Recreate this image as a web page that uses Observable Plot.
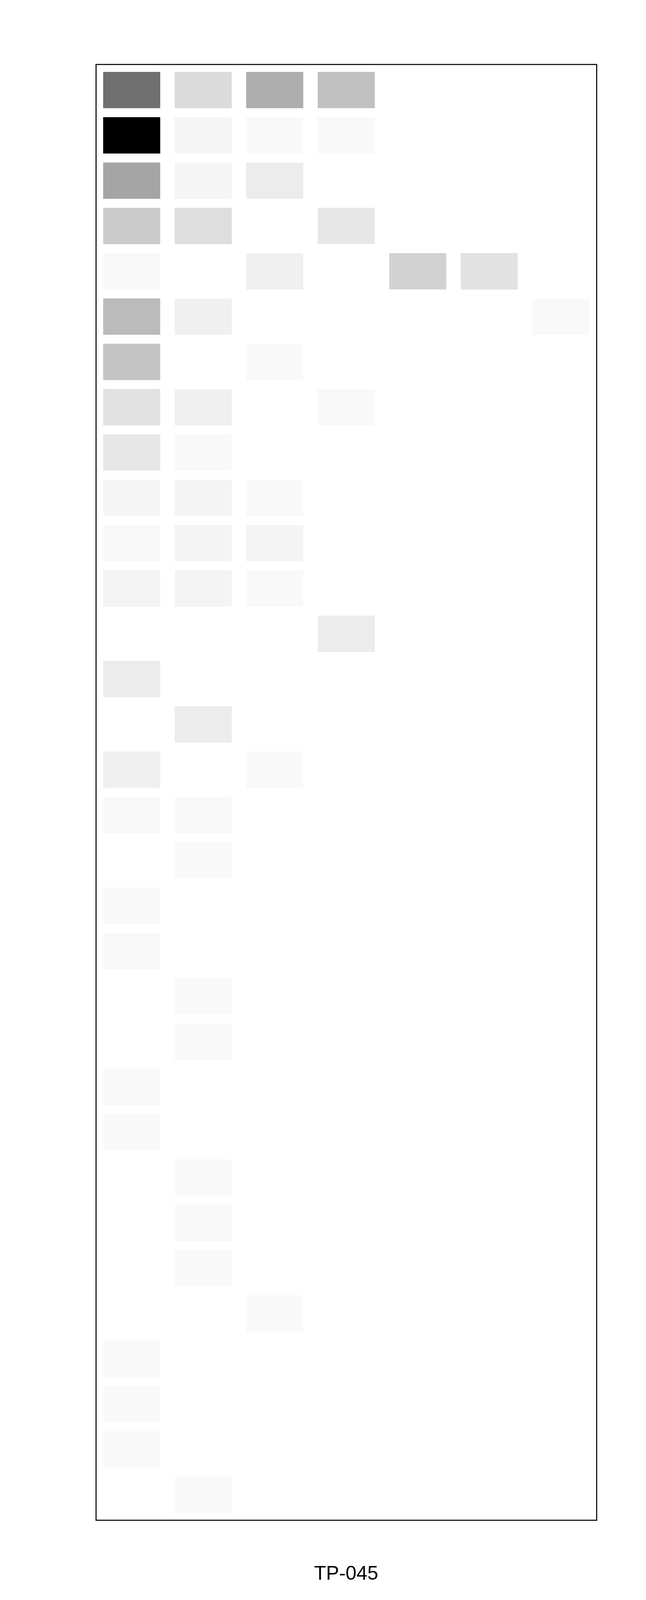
<!DOCTYPE html>
<html>
<head>
<meta charset="utf-8">
<script src="https://cdn.jsdelivr.net/npm/d3@7"></script>
<script src="https://cdn.jsdelivr.net/npm/@observablehq/plot@0.6"></script>
<style>
  body { margin: 0; background: #fff; overflow: hidden; }
  #wrap { position: relative; width: 1653px; }
  #caption {
    position: absolute; left: 245.3px; width: 1281px;
    text-align: center; font-family: "Liberation Sans", Arial, sans-serif;
    font-size: 50px; line-height: 50px; color: #000;
  }
</style>
</head>
<body>
<div id="wrap">
  <div id="chart"></div>
  <div id="caption">TP-045</div>
</div>
<script>
// filas (32) y columnas (7) de la matriz
const rows = d3.range(1, 33).map(i => "R" + i);
const cols = ["C1", "C2", "C3", "C4", "C5", "C6", "C7"];

// intensidad de cada celda (0 = vacía, 255 = máximo), una lista por columna
const c1 = [143,255,90,51,6,68,59,29,24,10,6,11,0,19,0,15,6,0,6,6,0,0,6,6,0,0,0,0,6,6,6,0];
const c2 = [36,10,10,33,0,15,0,15,6,11,11,11,0,0,19,0,6,6,0,0,6,6,0,0,6,6,6,0,0,0,0,6];
const c3 = [81,6,19,0,15,0,6,0,0,6,11,6,0,0,0,6,0,0,0,0,0,0,0,0,0,0,0,6,0,0,0,0];
const c4 = [63,6,0,24,0,0,0,6,0,0,0,0,19,0,0,0,0,0,0,0,0,0,0,0,0,0,0,0,0,0,0,0];
const c5 = [0,0,0,0,45,0,0,0,0,0,0,0,0,0,0,0,0,0,0,0,0,0,0,0,0,0,0,0,0,0,0,0];
const c6 = [0,0,0,0,29,0,0,0,0,0,0,0,0,0,0,0,0,0,0,0,0,0,0,0,0,0,0,0,0,0,0,0];
const c7 = [0,0,0,0,0,6,0,0,0,0,0,0,0,0,0,0,0,0,0,0,0,0,0,0,0,0,0,0,0,0,0,0];

const columns = [c1, c2, c3, c4, c5, c6, c7];
const cells = [];
columns.forEach((vals, j) => {
  vals.forEach((v, i) => {
    if (v > 0) cells.push({row: rows[i], col: cols[j], value: v});
  });
});

// el navegador puede recortar la ventana (p.ej. a 4096px): se escala en vertical
const fullH = 6131;
const k = Math.min(window.innerHeight || fullH, fullH) / fullH;

const chart = Plot.plot({
  width: 1653,
  height: 5900 * k,
  marginTop: 246.3 * k,
  marginBottom: 75.3 * k,
  marginLeft: 245.3,
  marginRight: 126.7,
  x: {type: "band", domain: cols, paddingInner: 0.2, paddingOuter: 0.1, axis: null},
  y: {type: "band", domain: rows, paddingInner: 0.2, paddingOuter: 0.1, axis: null},
  color: {type: "linear", domain: [0, 255], range: ["white", "black"], interpolate: "rgb"},
  marks: [
    Plot.cell(cells, {x: "col", y: "row", fill: "value"}),
    Plot.frame({stroke: "black", strokeWidth: 2.7})
  ]
});

d3.select("#wrap").style("height", fullH * k + "px");
d3.select("#chart").append(() => chart);
d3.select("#caption").style("top", (6053.3 * k - 42.3) + "px");
</script>
</body>
</html>
